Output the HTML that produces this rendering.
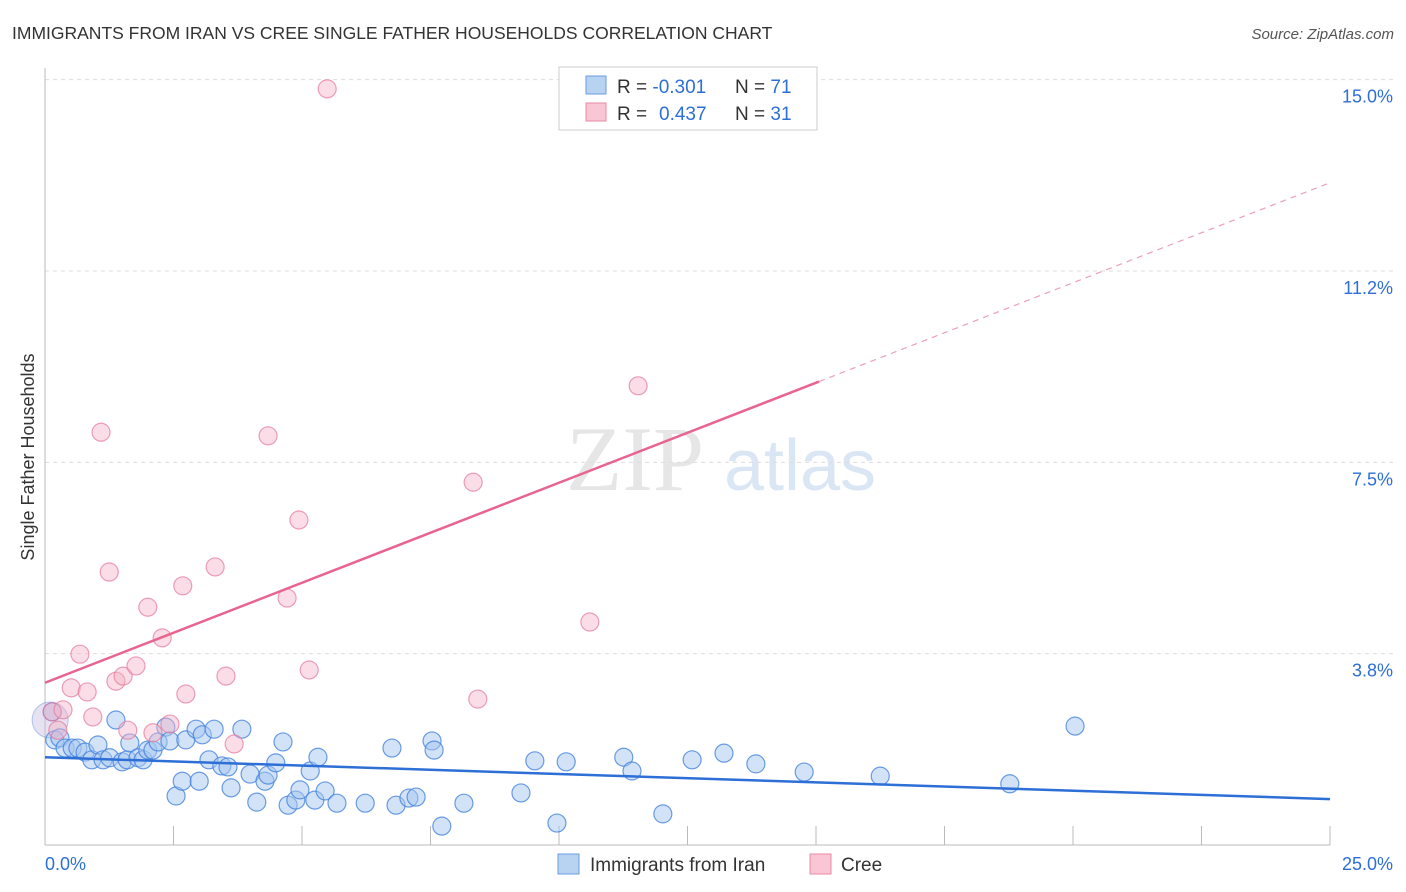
<!DOCTYPE html>
<html><head><meta charset="utf-8"><style>
body{margin:0;background:#fff;font-family:"Liberation Sans",sans-serif}
svg{display:block}
</style></head><body>
<svg id="c" width="1406" height="892" viewBox="0 0 1406 892">
<text x="12" y="39" font-size="17.5" fill="#333">IMMIGRANTS FROM IRAN VS CREE SINGLE FATHER HOUSEHOLDS CORRELATION CHART</text>
<text x="1394" y="39" font-size="15" fill="#555" font-style="italic" text-anchor="end">Source: ZipAtlas.com</text>
<g>
<text x="635" y="490" font-size="92" fill="#e6e6e6" font-family="Liberation Serif,serif" text-anchor="middle">ZIP</text>
<text x="800" y="490" font-size="72" fill="#dbe6f5" text-anchor="middle">atlas</text></g>
<g id="grid"></g><g id="axes"></g><g id="marks"></g>
<text transform="translate(34,457) rotate(-90)" font-size="18" fill="#333" text-anchor="middle">Single Father Households</text>
<g>
<rect x="559" y="67" width="258" height="63" fill="#fff" stroke="#ccc"/>
<rect x="586" y="76" width="20" height="18" fill="#b8d2f2" stroke="#6a9be0"/>
<rect x="586" y="103" width="20" height="18" fill="#f8c6d4" stroke="#e88aa6"/>
<text x="617" y="93" font-size="19" fill="#333">R = <tspan fill="#2d6fd6">-0.301</tspan><tspan x="735">N = </tspan><tspan fill="#2d6fd6">71</tspan></text>
<text x="617" y="120" font-size="19" fill="#333">R = <tspan fill="#2d6fd6" x="659">0.437</tspan><tspan x="735">N = </tspan><tspan fill="#2d6fd6">31</tspan></text></g>
<g>
<rect x="558" y="854" width="21" height="20" fill="#b8d2f2" stroke="#6a9be0"/>
<text x="590" y="871" font-size="19" fill="#333">Immigrants from Iran</text>
<rect x="810" y="854" width="21" height="20" fill="#f8c6d4" stroke="#e88aa6"/>
<text x="841" y="871" font-size="19" fill="#333">Cree</text></g>
</svg>
<script>
const yTicks=[3.75,7.5,11.25,15];
const yTickLabels=["3.8%","7.5%","11.2%","15.0%"];
const xTickLabels=["0.0%","25.0%"];
const blueX=[0.14,0.19,0.29,0.39,0.53,0.64,0.78,0.91,1.03,1.13,1.26,1.38,1.50,1.60,1.65,1.81,1.91,2.00,2.10,2.20,2.35,2.43,2.55,2.67,2.74,2.94,3.00,3.06,3.19,3.29,3.44,3.56,3.62,3.83,3.99,4.12,4.28,4.34,4.49,4.63,4.73,4.88,4.96,5.16,5.25,5.31,5.45,5.68,6.23,6.75,6.83,7.08,7.22,7.53,7.57,7.72,8.15,9.26,9.53,9.96,10.14,11.26,11.42,12.02,12.59,13.21,13.83,14.77,16.25,18.77,20.04];
const blueY=[2.61,2.06,2.10,1.90,1.90,1.90,1.82,1.67,1.96,1.67,1.71,2.45,1.63,1.67,2.00,1.71,1.67,1.86,1.86,2.02,2.31,2.04,0.96,1.25,2.06,2.27,1.25,2.16,1.67,2.27,1.55,1.53,1.12,2.27,1.39,0.84,1.25,1.37,1.61,2.02,0.78,0.88,1.08,1.45,0.88,1.72,1.06,0.82,0.82,1.90,0.78,0.92,0.94,2.04,1.86,0.37,0.82,1.02,1.65,0.43,1.63,1.72,1.45,0.61,1.67,1.80,1.59,1.43,1.35,1.20,2.33];
const pinkX=[0.14,0.25,0.35,0.51,0.68,0.82,0.93,1.09,1.25,1.38,1.52,1.61,1.77,2.00,2.10,2.28,2.43,2.68,2.74,3.31,3.52,3.68,4.34,4.71,4.94,5.14,5.49,8.33,8.42,10.60,11.54];
const pinkY=[2.61,2.25,2.65,3.08,3.74,3.00,2.51,8.09,5.35,3.21,3.31,2.25,3.51,4.66,2.20,4.06,2.37,5.08,2.96,5.45,3.31,1.98,8.02,4.84,6.37,3.43,14.82,7.11,2.86,4.37,9.00];
const blueTrend=[1.72,-0.0328];
const pinkTrend=[3.18,0.392];
const pinkSolidEnd=15.06;
const NS="http://www.w3.org/2000/svg";
const X=v=>45+v/25*1285, Y=v=>845-v/3.75*191.33;
function mk(p,t,a){const e=document.createElementNS(NS,t);for(const k in a)e.setAttribute(k,a[k]);p.appendChild(e);return e;}
const grid=document.getElementById('grid'),axes=document.getElementById('axes'),marks=document.getElementById('marks');
yTicks.forEach((t,i)=>{
 const l=mk(grid,'line',{x1:45,x2:1395,y1:Y(t),y2:Y(t),stroke:'#ddd','stroke-dasharray':'4,4'});
 
 
 const tx=mk(axes,'text',{x:1393,y:Y(t)+23,'font-size':18,fill:'#2d6fd6','text-anchor':'end'});
 tx.textContent=yTickLabels[i];
 
 
});
const al=mk(axes,'line',{x1:45,x2:45,y1:68,y2:845,stroke:'#bbb'});


const bl=mk(axes,'line',{x1:45,x2:1330,y1:845,y2:845,stroke:'#bbb'});


for(let i=0;i<=10;i++){
 const t=mk(axes,'line',{x1:X(i*2.5),x2:X(i*2.5),y1:826,y2:845,stroke:'#bbb'});
 
 
}
[[0,'start',45],[25,'end',1393]].forEach((d,i)=>{
 const tx=mk(axes,'text',{x:d[2],y:870,'font-size':18,fill:'#2d6fd6','text-anchor':d[1]});
 tx.textContent=xTickLabels[i];
 
 
});
const big=mk(marks,'circle',{cx:X(0.1),cy:Y(2.45),r:18,fill:'rgba(200,190,225,0.45)',stroke:'rgba(110,150,220,0.5)'});


blueX.forEach((x,i)=>{
 const c=mk(marks,'circle',{cx:X(x),cy:Y(blueY[i]),r:9,fill:'rgba(165,198,240,0.5)',stroke:'rgba(60,125,220,0.75)','stroke-width':1.2});
 
 
});
pinkX.forEach((x,i)=>{
 const c=mk(marks,'circle',{cx:X(x),cy:Y(pinkY[i]),r:9,fill:'rgba(245,180,200,0.45)',stroke:'rgba(230,120,155,0.7)','stroke-width':1.2});
 
 
});
const bt=mk(marks,'line',{x1:X(0),y1:Y(blueTrend[0]),x2:X(25),y2:Y(blueTrend[0]+blueTrend[1]*25),stroke:'#2d6fd6','stroke-width':2.5});


const pt=mk(marks,'line',{x1:X(0),y1:Y(pinkTrend[0]),x2:X(pinkSolidEnd),y2:Y(pinkTrend[0]+pinkTrend[1]*pinkSolidEnd),stroke:'#e8648f','stroke-width':2.5});


const pd=mk(marks,'line',{x1:X(pinkSolidEnd),y1:Y(pinkTrend[0]+pinkTrend[1]*pinkSolidEnd),x2:X(25),y2:Y(pinkTrend[0]+pinkTrend[1]*25),stroke:'#eaa0b8','stroke-width':1.2,'stroke-dasharray':'6,5'});


</script>
</body></html>
